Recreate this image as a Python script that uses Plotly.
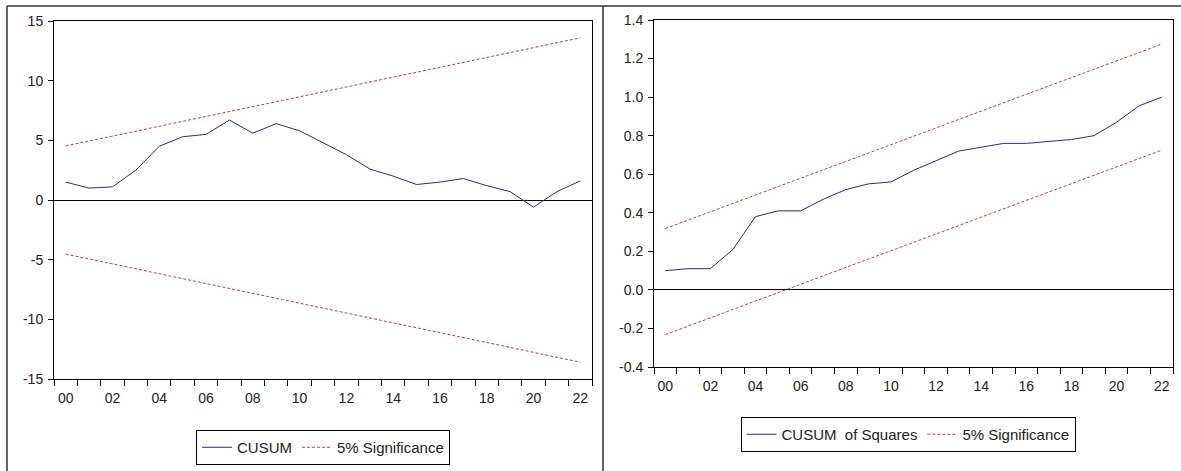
import plotly.graph_objects as go

# ---- data ----
years = list(range(0, 23))            # 2000 .. 2022 (positions)
year_labels = ["00", "02", "04", "06", "08", "10", "12", "14", "16", "18", "20", "22"]
label_pos = [0, 2, 4, 6, 8, 10, 12, 14, 16, 18, 20, 22]

cusum = [1.5, 1.0, 1.1, 2.5, 4.5, 5.3, 5.5, 6.7, 5.6, 6.4, 5.8, 4.8, 3.8, 2.6, 2.0, 1.3, 1.5, 1.8, 1.2, 0.7, -0.6, 0.7, 1.6]
cusum_upper = [4.53, 4.94, 5.35, 5.77, 6.18, 6.59, 7.00, 7.41, 7.82, 8.24, 8.65, 9.06,
               9.47, 9.88, 10.30, 10.71, 11.12, 11.53, 11.94, 12.35, 12.77, 13.18, 13.59]
cusum_lower = [-4.53, -4.94, -5.35, -5.77, -6.18, -6.59, -7.00, -7.41, -7.82, -8.24, -8.65, -9.06,
               -9.47, -9.88, -10.30, -10.71, -11.12, -11.53, -11.94, -12.35, -12.77, -13.18, -13.59]
left_ticks = [-15, -10, -5, 0, 5, 10, 15]
left_tick_text = ["-15", "-10", "-5", "0", "5", "10", "15"]

cusumsq = [0.10, 0.11, 0.11, 0.21, 0.38, 0.41, 0.41, 0.47, 0.52, 0.55, 0.56, 0.62,
           0.67, 0.72, 0.74, 0.76, 0.76, 0.77, 0.78, 0.80, 0.87, 0.955, 1.0]
sq_upper = [0.318, 0.362, 0.405, 0.449, 0.492, 0.536, 0.579, 0.623, 0.666, 0.710, 0.753, 0.797,
            0.840, 0.884, 0.927, 0.971, 1.014, 1.058, 1.101, 1.145, 1.188, 1.232, 1.275]
sq_lower = [-0.232, -0.188, -0.145, -0.101, -0.058, -0.014, 0.029, 0.073, 0.116, 0.160, 0.203, 0.247,
            0.290, 0.334, 0.377, 0.421, 0.464, 0.508, 0.551, 0.595, 0.638, 0.682, 0.725]
right_ticks = [-0.4, -0.2, 0.0, 0.2, 0.4, 0.6, 0.8, 1.0, 1.2, 1.4]
right_tick_text = ["-0.4", "-0.2", "0.0", "0.2", "0.4", "0.6", "0.8", "1.0", "1.2", "1.4"]

BLUE = "#2a2a8c"
RED = "#cc3a3a"
FONT = "Liberation Sans"
W, H = 1181, 471

fig = go.Figure()

dash = "3px,2px"
# left panel
fig.add_trace(go.Scatter(x=years, y=cusum, mode="lines", name="CUSUM",
                         line=dict(color=BLUE, width=1), xaxis="x", yaxis="y", legend="legend"))
fig.add_trace(go.Scatter(x=years, y=cusum_upper, mode="lines", name="5% Significance",
                         line=dict(color=RED, width=1, dash=dash), xaxis="x", yaxis="y", legend="legend"))
fig.add_trace(go.Scatter(x=years, y=cusum_lower, mode="lines", name="5% Significance", showlegend=False,
                         line=dict(color=RED, width=1, dash=dash), xaxis="x", yaxis="y", legend="legend"))
# right panel
fig.add_trace(go.Scatter(x=years, y=cusumsq, mode="lines", name="CUSUM  of Squares",
                         line=dict(color=BLUE, width=1), xaxis="x2", yaxis="y2", legend="legend2"))
fig.add_trace(go.Scatter(x=years, y=sq_upper, mode="lines", name="5% Significance",
                         line=dict(color=RED, width=1, dash=dash), xaxis="x2", yaxis="y2", legend="legend2"))
fig.add_trace(go.Scatter(x=years, y=sq_lower, mode="lines", name="5% Significance", showlegend=False,
                         line=dict(color=RED, width=1, dash=dash), xaxis="x2", yaxis="y2", legend="legend2"))

def px_x(p):
    return p / W

def px_y(p):
    return 1 - p / H

xcommon = dict(range=[-0.5, 22.5], tickvals=label_pos, ticktext=year_labels, ticks="",
               showline=True, linecolor="black", linewidth=1, mirror=True, automargin=False,
               showgrid=False, zeroline=False, ticklabelstandoff=6,
               tickfont=dict(family=FONT, size=14, color="#222"),
               minor=dict(tickmode="array", tickvals=[v - 0.5 for v in years] + [22.5],
                          ticks="outside", ticklen=6, tickcolor="black", tickwidth=1, showgrid=False))
ycommon = dict(showline=True, linecolor="black", linewidth=1, mirror=True, automargin=False,
               ticks="outside", ticklen=5, tickcolor="black", tickwidth=1,
               showgrid=False, zeroline=True, zerolinecolor="black", zerolinewidth=1,
               ticklabelstandoff=2,
               tickfont=dict(family=FONT, size=14, color="#222"))

fig.update_layout(
    template="none",
    width=W, height=H, autosize=False,
    margin=dict(l=0, r=0, t=0, b=0, pad=0),
    paper_bgcolor="white", plot_bgcolor="white",
    font=dict(family=FONT, color="#222"),
    xaxis=dict(domain=[px_x(54), px_x(592)], anchor="y", **xcommon),
    yaxis=dict(domain=[px_y(379), px_y(21)], anchor="x", range=[-15, 15],
               tickvals=left_ticks, ticktext=left_tick_text, **ycommon),
    xaxis2=dict(domain=[px_x(654), px_x(1173)], anchor="y2", **xcommon),
    yaxis2=dict(domain=[px_y(367), px_y(20)], anchor="x2", range=[-0.4, 1.4],
                tickvals=right_ticks, ticktext=right_tick_text, **ycommon),
    legend=dict(orientation="h", x=px_x(323), xanchor="center", y=px_y(430), yanchor="top",
                bordercolor="black", borderwidth=1, bgcolor="white",
                font=dict(family=FONT, size=15, color="#222"), itemwidth=30),
    legend2=dict(orientation="h", x=px_x(908), xanchor="center", y=px_y(417), yanchor="top",
                 bordercolor="black", borderwidth=1, bgcolor="white",
                 font=dict(family=FONT, size=15, color="#222"), itemwidth=30),
    showlegend=True,
)

# outer frames of the two graph panels
frame = dict(type="line", xref="paper", yref="paper", line=dict(color="#333", width=1.5))
fig.add_shape(x0=px_x(7), x1=1, y0=px_y(6), y1=px_y(6), **frame)
fig.add_shape(x0=px_x(7), x1=px_x(7), y0=px_y(6), y1=0, **frame)
fig.add_shape(x0=px_x(603), x1=px_x(603), y0=px_y(6), y1=0, **frame)

fig.write_html("out.html", config={"displayModeBar": False},
               post_script="document.body.style.margin='0';document.body.style.overflow='hidden';")
